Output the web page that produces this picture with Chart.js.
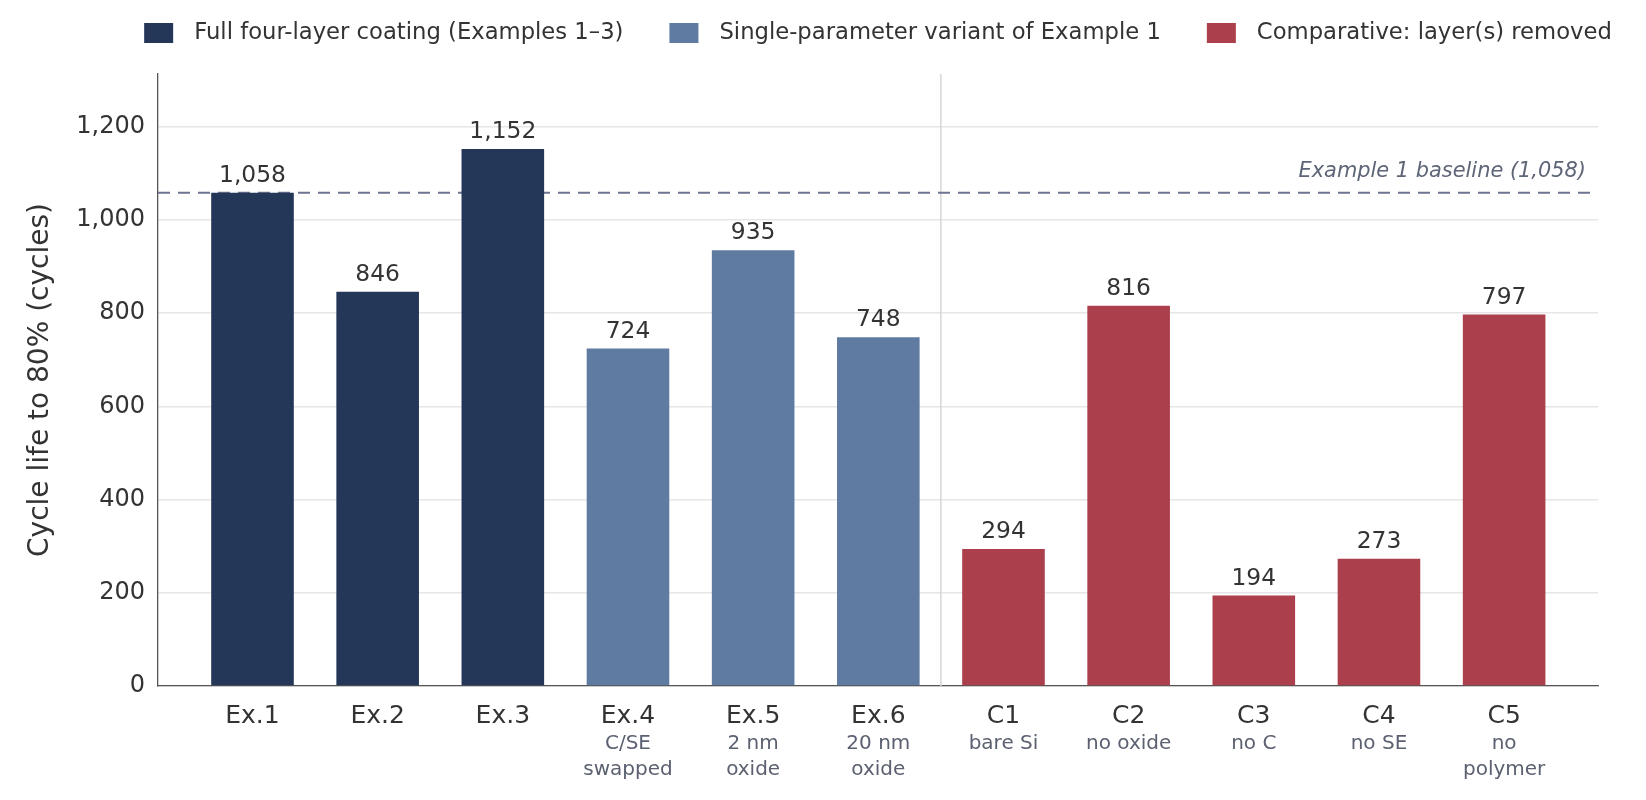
<!DOCTYPE html>
<html>
<head>
<meta charset="utf-8">
<script src="https://cdn.jsdelivr.net/npm/chart.js@4.4.1/dist/chart.umd.min.js"></script>
<style>
  html, body { margin: 0; padding: 0; background: #fff; }
  #wrap { width: 1646px; height: 800px; }
</style>
</head>
<body>
<div id="wrap"><canvas id="myChart"></canvas></div>
<script>
const categories = ['Ex.1', 'Ex.2', 'Ex.3', 'Ex.4', 'Ex.5', 'Ex.6', 'C1', 'C2', 'C3', 'C4', 'C5'];
const subLabels = [[], [], [], ['C/SE', 'swapped'], ['2 nm', 'oxide'], ['20 nm', 'oxide'],
  ['bare Si'], ['no oxide'], ['no C'], ['no SE'], ['no', 'polymer']];
const cycleLife = [1058, 846, 1152, 724, 935, 748, 294, 816, 194, 273, 797];
const groupOf = [0, 0, 0, 1, 1, 1, 2, 2, 2, 2, 2];
const groupNames = ['Full four-layer coating (Examples 1–3)', 'Single-parameter variant of Example 1', 'Comparative: layer(s) removed'];
const groupColors = ['#253758', '#5f7ba1', '#ab3f4b'];
const yTicks = [0, 200, 400, 600, 800, 1000, 1200];
const baselineValue = cycleLife[0];

const FONT = "'DejaVu Sans', sans-serif";
Chart.defaults.font.family = FONT;
Chart.defaults.color = '#333';

const fmt = v => v.toLocaleString('en-US');

const extras = {
  id: 'extras',
  beforeDatasetsDraw(chart) {
    const { ctx, chartArea: a, scales: { x, y } } = chart;
    ctx.save();
    // divider between examples and comparatives
    const sx = x.getPixelForValue(5.5);
    ctx.strokeStyle = '#d6d6d6';
    ctx.lineWidth = 1.5;
    ctx.beginPath(); ctx.moveTo(sx, a.top); ctx.lineTo(sx, a.bottom); ctx.stroke();
    // Example 1 baseline
    const by = y.getPixelForValue(baselineValue);
    ctx.strokeStyle = '#6d7590';
    ctx.lineWidth = 2;
    ctx.setLineDash([12, 8]);
    ctx.beginPath(); ctx.moveTo(a.left, by); ctx.lineTo(a.right, by); ctx.stroke();
    ctx.setLineDash([]);
    ctx.font = 'italic 20.9px ' + FONT;
    ctx.fillStyle = '#5e6577';
    ctx.textAlign = 'right';
    ctx.textBaseline = 'alphabetic';
    ctx.fillText('Example 1 baseline (' + fmt(baselineValue) + ')', a.right - 12, by - 16);
    ctx.restore();
  },
  afterDatasetsDraw(chart) {
    const { ctx, chartArea: a, scales: { x } } = chart;
    ctx.save();
    // value labels
    ctx.font = '23.4px ' + FONT;
    ctx.fillStyle = '#333';
    ctx.textAlign = 'center';
    ctx.textBaseline = 'alphabetic';
    chart.getDatasetMeta(0).data.forEach((bar, i) => {
      ctx.fillText(fmt(cycleLife[i]), bar.x, bar.y - 11);
    });
    // second line of the category labels
    ctx.font = '20px ' + FONT;
    ctx.fillStyle = '#5b6170';
    subLabels.forEach((lines, i) => {
      const px = x.getPixelForValue(i);
      lines.forEach((t, j) => ctx.fillText(t, px, a.bottom + 63 + j * 26));
    });
    // legend
    ctx.font = '22.7px ' + FONT;
    const boxW = 29, boxH = 20, gapText = 21, gapItem = 46;
    const widths = groupNames.map(n => boxW + gapText + ctx.measureText(n).width);
    const total = widths.reduce((s, w) => s + w, 0) + gapItem * (widths.length - 1);
    let lx = (a.left + a.right) / 2 - total / 2;
    ctx.textAlign = 'left';
    ctx.textBaseline = 'middle';
    groupNames.forEach((n, i) => {
      ctx.fillStyle = groupColors[i];
      ctx.fillRect(lx, 23, boxW, boxH);
      ctx.fillStyle = '#333';
      ctx.fillText(n, lx + boxW + gapText, 33);
      lx += widths[i] + gapItem;
    });
    ctx.restore();
  }
};

new Chart(document.getElementById('myChart'), {
  type: 'bar',
  data: {
    datasets: [{
      data: cycleLife.map((v, i) => ({ x: i, y: v })),
      backgroundColor: groupOf.map(g => groupColors[g]),
      borderWidth: 0,
      barPercentage: 0.66,
      categoryPercentage: 1
    }]
  },
  options: {
    responsive: true,
    maintainAspectRatio: false,
    devicePixelRatio: 1,
    animation: false,
    layout: { padding: { top: 74, right: 48, left: 0, bottom: 0 } },
    plugins: {
      legend: { display: false },
      tooltip: { enabled: false }
    },
    scales: {
      x: {
        type: 'linear',
        offset: false,
        min: -0.755,
        max: 10.75,
        afterBuildTicks: s => { s.ticks = categories.map((c, i) => ({ value: i })); },
        afterFit: s => { s.height = 114; },
        grid: { display: false, drawTicks: false },
        border: { display: true, color: '#555', width: 1.3 },
        ticks: {
          autoSkip: false,
          maxRotation: 0,
          padding: 15,
          font: { size: 25 },
          color: '#333',
          callback: v => categories[v]
        }
      },
      y: {
        min: 0,
        max: 1313,
        afterBuildTicks: s => { s.ticks = yTicks.map(v => ({ value: v })); },
        afterFit: s => { s.width = 158; },
        grid: { color: '#e6e6e6', lineWidth: 1.5, drawTicks: false },
        border: { display: true, color: '#555', width: 1.3 },
        ticks: {
          padding: 13,
          font: { size: 24 },
          color: '#333',
          callback: v => fmt(v)
        },
        title: {
          display: true,
          text: 'Cycle life to 80% (cycles)',
          font: { size: 28 },
          color: '#333',
          padding: { top: 24, bottom: 0 }
        }
      }
    }
  },
  plugins: [extras]
});
</script>
</body>
</html>
